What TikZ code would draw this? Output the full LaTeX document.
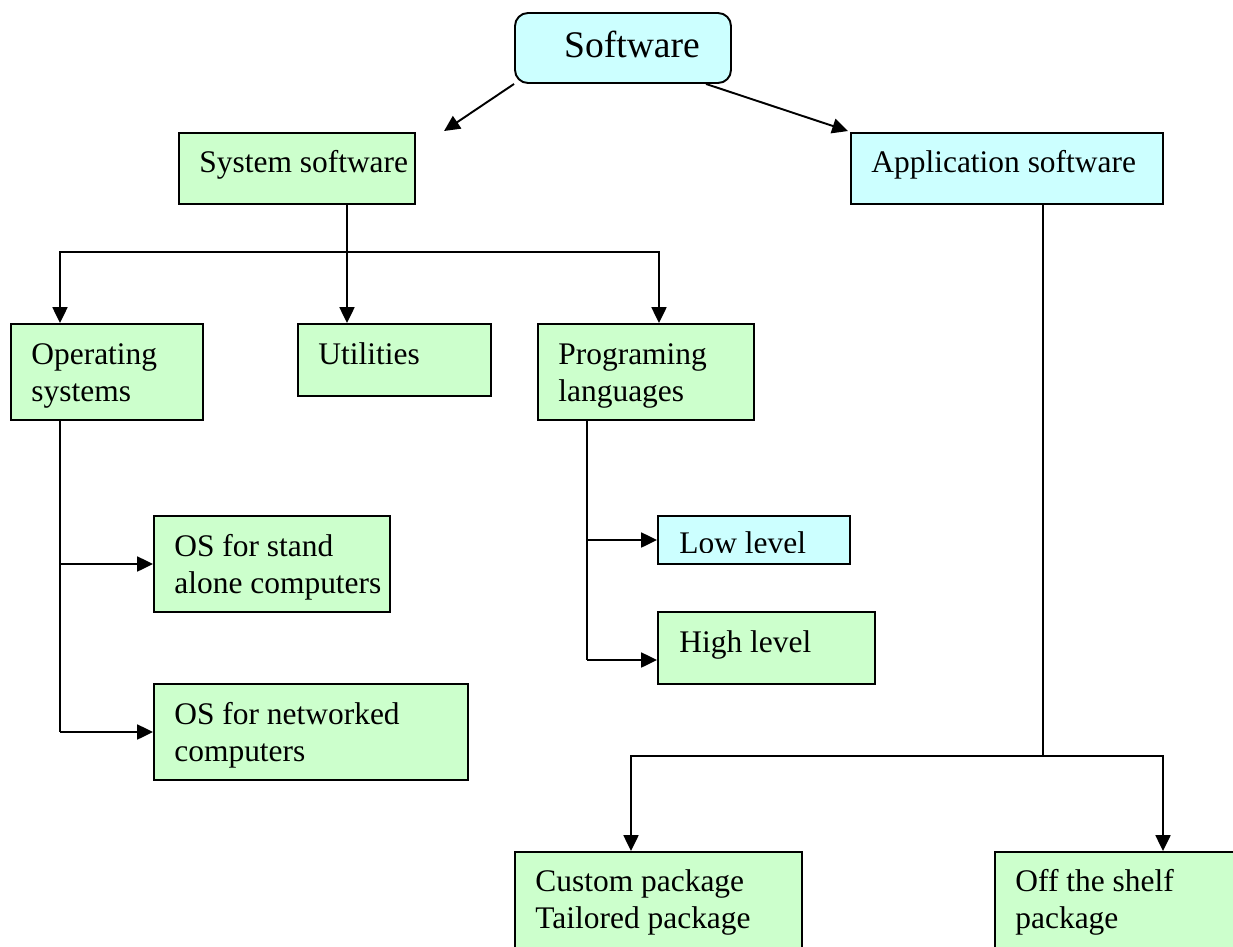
\documentclass[tikz,border=0pt]{standalone}
\usepackage{fontspec}
\setmainfont{Liberation Serif}
\usetikzlibrary{arrows.meta,fit,calc}
\definecolor{lgreen}{HTML}{CCFFCC}
\definecolor{lcyan}{HTML}{CCFFFF}
\newcommand{\mkbox}[6]{%
  \path (#2,#3) coordinate (#1-a) (#4,#5) coordinate (#1-b);
  \node[#6, fit=(#1-a)(#1-b)] (#1) {};}
\begin{document}
\begin{tikzpicture}[x=0.02cm,y=-0.02cm,
  box/.style={draw=black, line width=1.1pt, inner sep=0pt, fill=lgreen},
  cbox/.style={box, fill=lcyan},
  lbl/.style={anchor=base west, inner sep=0pt, font=\fontsize{17.9}{21.2}\selectfont},
  conn/.style={line width=1.1pt},
  arr/.style={conn, -{Triangle[length=9pt,width=8.5pt]}}]
\useasboundingbox (0,0) rectangle (1233,946);
\clip (0,0) rectangle (1233,946);

% boxes
\mkbox{sw}{515}{13}{731}{83}{cbox, rounded corners=0.26cm}
\node[anchor=base, inner sep=0pt, font=\fontsize{21.4}{25}\selectfont] (swt) at (632,58) {Software};
\mkbox{sys}{179}{133}{415}{204}{box}
\mkbox{app}{851}{133}{1163}{204}{cbox}
\mkbox{os}{11}{324}{203}{420}{box}
\mkbox{ut}{298}{324}{491}{396}{box}
\mkbox{pl}{538}{324}{754}{420}{box}
\mkbox{sa}{154}{516}{390}{612}{box}
\mkbox{nw}{154}{684}{468}{780}{box}
\mkbox{ll}{658}{516}{850}{564}{cbox}
\mkbox{hl}{658}{612}{875}{684}{box}
\mkbox{cp}{515}{852}{802}{970}{box}
\mkbox{ot}{995}{852}{1250}{970}{box}

% texts
\node[lbl] (syst) at ($(sys.north west)+(21,40)$) {System software};
\node[lbl] (appt) at ($(app.north west)+(21,40)$) {Application software};
\node[lbl] (ost) at ($(os.north west)+(21,41)$) {\parbox[t]{8cm}{\raggedright Operating\\systems}};
\node[lbl] (utt) at ($(ut.north west)+(21,41)$) {Utilities};
\node[lbl] (plt) at ($(pl.north west)+(21,41)$) {\parbox[t]{8cm}{\raggedright Programing\\languages}};
\node[lbl] (sat) at ($(sa.north west)+(21,41)$) {\parbox[t]{8cm}{\raggedright OS for stand\\alone computers}};
\node[lbl] (nwt) at ($(nw.north west)+(21,41)$) {\parbox[t]{8cm}{\raggedright OS for networked\\computers}};
\begin{scope}
  \clip (658,516) rectangle (850,552);
  \node[lbl] (llt) at ($(ll.north west)+(22,38)$) {Low level};
\end{scope}
\node[lbl] (hlt) at ($(hl.north west)+(22,41)$) {High level};
\node[lbl] (cpt) at ($(cp.north west)+(21,40)$) {\parbox[t]{8cm}{\raggedright Custom package\\Tailored package}};
\node[lbl] (ott) at ($(ot.north west)+(21,40)$) {\parbox[t]{8cm}{\raggedright Off the shelf\\package}};

% connectors from Software
\draw[arr] (sw.south west) -- ($(sys.north west)+(266,-1)$);
\draw[arr] ($(sw.south west)+(192,0)$) -- ($(app.north west)+(-2,-1)$);

% system software tree
\coordinate (j1) at (347,252);
\coordinate (j1l) at (60,252);
\coordinate (j1r) at (659,252);
\draw[conn] (sys.south -| j1) -- (j1);
\draw[arr] (j1) -- (ut.north -| j1);
\draw[arr] (j1) -- (j1l) -- (os.north -| j1l);
\draw[arr] (j1) -- (j1r) -- (pl.north -| j1r);

% operating systems
\coordinate (o1) at (60,564);
\coordinate (o2) at (60,732);
\draw[conn] (os.south -| o2) -- (o2);
\draw[arr] (o1) -- (sa.west |- o1);
\draw[arr] (o2) -- (nw.west |- o2);

% programming languages
\coordinate (p1) at (587,540);
\coordinate (p2) at (587,660);
\draw[conn] (pl.south -| p2) -- (p2);
\draw[arr] (p1) -- (ll.west |- p1);
\draw[arr] (p2) -- (hl.west |- p2);

% application software
\coordinate (q) at (1043,756);
\coordinate (ql) at (631,756);
\coordinate (qr) at (1163,756);
\draw[conn] (app.south -| q) -- (q);
\draw[arr] (q) -- (ql) -- (cp.north -| ql);
\draw[arr] (q) -- (qr) -- (ot.north -| qr);
\end{tikzpicture}
\end{document}
